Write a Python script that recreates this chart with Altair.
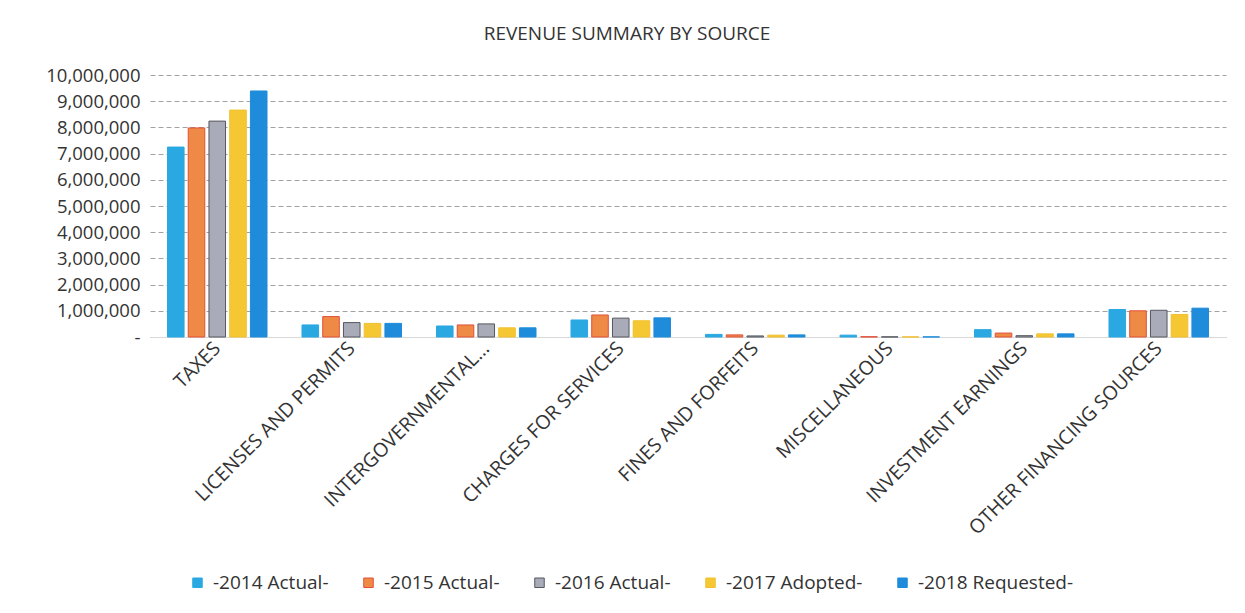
import altair as alt
import pandas as pd

categories = ["TAXES", "LICENSES AND PERMITS", "INTERGOVERNMENTAL…", "CHARGES FOR SERVICES",
              "FINES AND FORFEITS", "MISCELLANEOUS", "INVESTMENT EARNINGS", "OTHER FINANCING SOURCES"]
series = ["-2014 Actual-", "-2015 Actual-", "-2016 Actual-", "-2017 Adopted-", "-2018 Requested-"]

v2014 = [7250000, 460000, 420000, 650000, 100000, 70000, 280000, 1050000]
v2015 = [7980000, 780000, 460000, 840000, 80000, 10000, 150000, 1000000]
v2016 = [8240000, 550000, 500000, 720000, 40000, 5000, 50000, 1020000]
v2017 = [8660000, 520000, 350000, 620000, 70000, 5000, 120000, 860000]
v2018 = [9390000, 520000, 350000, 730000, 80000, 5000, 120000, 1100000]

fills = ["#2AA8E2", "#EE8A45", "#A9ACB8", "#F5C833", "#1E8CDB"]
strokes = ["#2AA8E2", "#E0503A", "#55575F", "#F0C030", "#1E8CDB"]
y_ticks = list(range(0, 10_000_001, 1_000_000))

rows = []
for s, vals in zip(series, [v2014, v2015, v2016, v2017, v2018]):
    for c, v in zip(categories, vals):
        rows.append({"category": c, "series": s, "value": v})
df = pd.DataFrame(rows)

FONT = "Open Sans"
TXT = "#333333"

legend_kw = dict(title=None, orient="none", direction="horizontal",
                 legendX=38, legendY=498, symbolType="square", symbolSize=90,
                 labelFontSize=19, labelFont=FONT, labelColor=TXT,
                 columnPadding=30, labelOffset=6, symbolStrokeWidth=1)

chart = alt.Chart(df).mark_bar(strokeWidth=1).encode(
    x=alt.X("category:N", sort=categories, title=None,
            scale=alt.Scale(paddingInner=0.26, paddingOuter=0.13),
            axis=alt.Axis(labelAngle=-45, labelAlign="right", labelBaseline="middle",
                          labelFontSize=19.5, labelFont=FONT, labelColor=TXT, labelPadding=8,
                          ticks=False, domain=True, domainColor="#d9d9d9", labelLimit=400)),
    xOffset=alt.XOffset("series:N", sort=series, scale=alt.Scale(paddingInner=0.2)),
    y=alt.Y("value:Q", title=None,
            scale=alt.Scale(domain=[0, 10_000_000], nice=False),
            axis=alt.Axis(values=y_ticks, labelExpr="datum.value == 0 ? '-' : format(datum.value, ',')",
                          labelFontSize=18.5, labelFont=FONT, labelColor=TXT, labelPadding=10,
                          ticks=False, domain=False, grid=True, gridColor="#8a8a8a",
                          gridDash=[5, 3], gridWidth=0.8)),
    fill=alt.Fill("series:N", sort=series, scale=alt.Scale(domain=series, range=fills),
                  legend=alt.Legend(**legend_kw)),
    stroke=alt.Stroke("series:N", sort=series, scale=alt.Scale(domain=series, range=strokes),
                      legend=alt.Legend(**legend_kw)),
).properties(
    width=1076, height=262,
    title=alt.TitleParams("REVENUE SUMMARY BY SOURCE", font=FONT, fontSize=19, fontWeight="normal",
                          color=TXT, anchor="middle", dx=-61, offset=22),
    autosize=alt.AutoSizeParams(type="none"),
    padding={"left": 142, "top": 67, "right": 10, "bottom": 265},
).configure_view(stroke=None)

chart.save("out.html", embed_options={"renderer": "svg", "actions": False})
